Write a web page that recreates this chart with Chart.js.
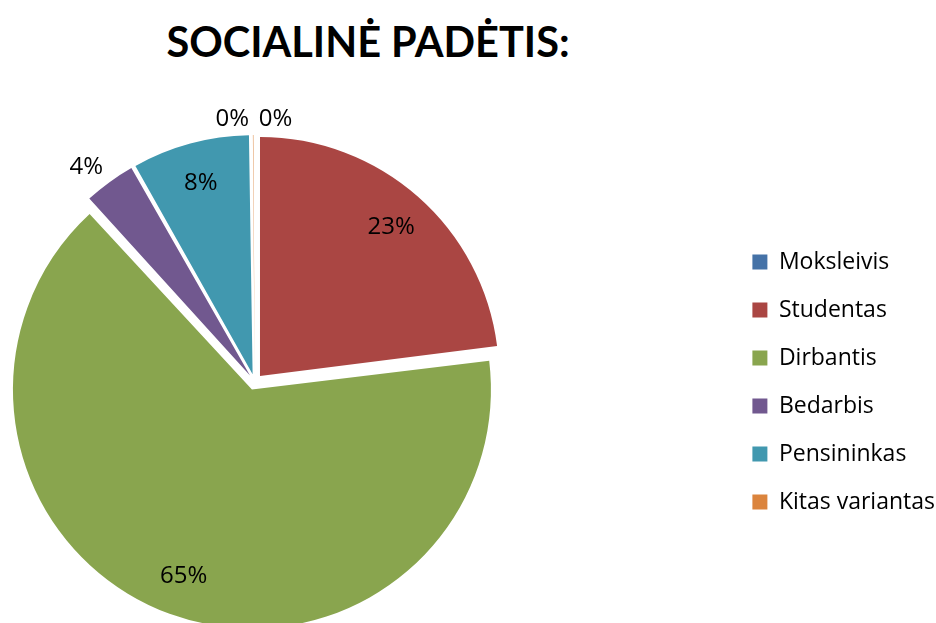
<!DOCTYPE html>
<html lang="lt">
<head>
<meta charset="utf-8">
<title>Socialinė padėtis</title>
<script src="https://cdn.jsdelivr.net/npm/chart.js@4.4.1/dist/chart.umd.min.js"></script>
<style>
  html, body { margin: 0; padding: 0; background: #fff; overflow: hidden; width: 936px; height: 623px; }
  #title { position: absolute; left: 0; top: 19px; width: 736px; text-align: center; font: bold 41.5px Lato, sans-serif; line-height: 1.1; color: #000; }
  #pie { position: absolute; left: -218px; top: 0; }
</style>
</head>
<body>
<div id="title">SOCIALINĖ PADĖTIS:</div>
<canvas id="pie" width="1163" height="764"></canvas>
<script>
const labels = ['Moksleivis', 'Studentas', 'Dirbantis', 'Bedarbis', 'Pensininkas', 'Kitas variantas'];
const shares = [0, 23, 65.2, 3.6, 8.0, 0.2];
const colors = ['#4572A7', '#AA4643', '#89A54E', '#71588F', '#4198AF', '#DB843D'];

const PIE_R = 239;
const EXPLODE = 8; // px each slice is pulled out

// chart.js grows small arcs by the offset, keep every slice on the same radius
const equalRadius = {
  id: 'equalRadius',
  beforeDatasetsDraw(chart) {
    chart.getDatasetMeta(0).data.forEach(arc => {
      const off = (arc.options.offset || 0) / 4;
      const fix = 1 - Math.sin(Math.min(Math.PI, arc.circumference));
      arc.outerRadius = PIE_R - off * fix;
    });
  }
};

const pctLabels = {
  id: 'pctLabels',
  afterDatasetsDraw(chart) {
    const ctx = chart.ctx;
    const data = chart.data.datasets[0].data;
    const total = data.reduce((a, b) => a + b, 0);
    ctx.save();
    ctx.font = '24px "Open Sans", sans-serif';
    ctx.fillStyle = '#000';
    chart.getDatasetMeta(0).data.forEach((arc, i) => {
      const share = data[i] / total;
      const txt = Math.round(share * 100) + '%';
      const mid = (arc.startAngle + arc.endAngle) / 2;
      const cos = Math.cos(mid), sin = Math.sin(mid);
      const cx = arc.x + cos * EXPLODE, cy = arc.y + sin * EXPLODE;
      if (share >= 0.05) {
        const d = PIE_R * 0.83;
        ctx.textAlign = 'center';
        ctx.textBaseline = 'middle';
        ctx.fillText(txt, cx + cos * d, cy + sin * d);
      } else {
        const d = PIE_R + 4;
        ctx.textAlign = cos >= 0 ? 'left' : 'right';
        ctx.textBaseline = sin < 0 ? 'bottom' : 'top';
        ctx.fillText(txt, cx + cos * d + (cos >= 0 ? 4 : -4), cy + sin * d);
      }
    });
    ctx.restore();
  }
};

new Chart(document.getElementById('pie'), {
  type: 'pie',
  data: {
    labels,
    datasets: [{ data: shares, backgroundColor: colors, borderWidth: 0, offset: EXPLODE * 4 }]
  },
  options: {
    responsive: false,
    animation: false,
    events: [],
    radius: PIE_R,
    plugins: {
      legend: {
        position: 'right',
        labels: { boxWidth: 15, boxHeight: 15, padding: 25, color: '#000', font: { family: 'Open Sans', size: 23 } }
      },
      tooltip: { enabled: false }
    }
  },
  plugins: [equalRadius, pctLabels]
});
</script>
</body>
</html>
